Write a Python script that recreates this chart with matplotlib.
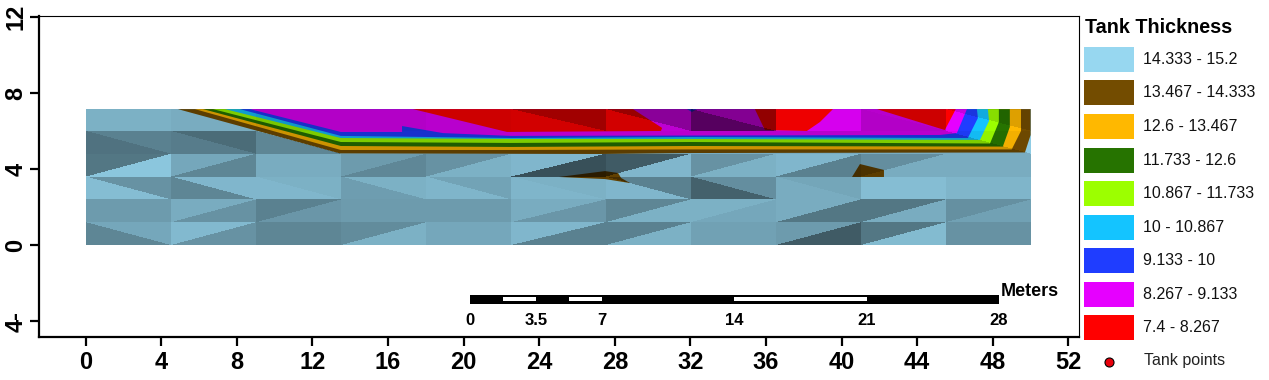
import numpy as np
import matplotlib
matplotlib.use("Agg")
import matplotlib.pyplot as plt
from matplotlib.patches import Rectangle
from matplotlib.tri import Triangulation

plt.rcParams['font.family'] = ['Liberation Sans', 'DejaVu Sans']

# ---------- data ----------
x_nodes = [0, 4.5, 9, 13.5, 18, 22.5, 27.5, 32, 36.5, 41, 45.5, 50]
y_nodes = [7.15, 6.0, 4.8, 3.6, 2.4, 1.2, 0]

# diagonal of each cell: 0 = top-left to bottom-right, 1 = bottom-left to top-right
cell_diag = [
    [0] * 11,
    [0] * 11,
    [1] * 11,
    [0] * 11,
    [1] * 11,
    [0, 1, 1, 1, 1, 1, 1, 1, 1, 1, 1],
]
# hillshade of the triangle above the diagonal, per cell
shade_upper = [
    [.82, .80, .78, .78, .80, .63, .60, .57, .93, .80, .87],
    [.60, .50, .80, .80, .80, .80, .80, .80, .80, .80, .95],
    [.55, .78, .80, .72, .68, .85, .42, .68, .85, .66, .80],
    [.68, .85, .82, .82, .76, .82, .60, .66, .77, .88, .84],
    [.72, .80, .60, .72, .72, .80, .62, .82, .80, .55, .67],
    [.78, .86, .62, .65, .78, .85, .60, .75, .72, .55, .68],
]
# hillshade of the triangle below the diagonal, per cell
shade_lower = [
    [.82, .80, .78, .78, .80, .82, .82, .37, .93, .78, 1.0],
    [.53, .58, .62, .80, .80, .80, .80, .80, .80, .80, .80],
    [.92, .62, .80, .63, .82, .37, .85, .82, .60, .80, .80],
    [.88, .62, .85, .73, .84, .84, .85, .45, .80, .88, .84],
    [.72, .68, .70, .72, .72, .70, .82, .78, .55, .80, .75],
    [.62, .68, .62, .82, .78, .60, .82, .75, .42, .87, .68],
]

# thickness class names, colours, outermost class first
class_labels = ['14.333 - 15.2', '13.467 - 14.333', '12.6 - 13.467', '11.733 - 12.6',
                '10.867 - 11.733', '10 - 10.867', '9.133 - 10', '8.267 - 9.133', '7.4 - 8.267']
class_colors = ['#97D7F0', '#734C00', '#FFB800', '#267300', '#9CFF00',
                '#14C4FF', '#1F3DFF', '#E600FF', '#FF0000']

# contour outlines: lower limit of each class
brown_x = [4.88, 13.45, 27.2, 32, 49.7, 50, 50]
brown_y = [7.15, 4.82, 4.79, 4.84, 4.87, 5.79, 7.15]
orange_x = [5.78, 13.5, 22.5, 32, 49.0, 49.49, 49.49]
orange_y = [7.15, 5.0, 5.0, 5.03, 5.03, 6.0, 7.15]
green_x = [6.21, 13.5, 22.5, 32, 48.53, 48.9, 48.9]
green_y = [7.15, 5.21, 5.16, 5.21, 5.18, 6.21, 7.15]
lime_x = [6.74, 13.5, 22.5, 32, 47.85, 48.32, 48.32]
lime_y = [7.15, 5.42, 5.37, 5.42, 5.34, 6.47, 7.15]
cyan_x = [7.37, 13.5, 22.5, 32, 47.32, 47.8, 47.74]
cyan_y = [7.15, 5.63, 5.58, 5.58, 5.53, 6.53, 7.15]
blue_x = [8.16, 13.5, 22.5, 32, 46.68, 47.21, 47.16]
blue_y = [7.15, 5.74, 5.63, 5.68, 5.63, 6.68, 7.15]
magenta_x = [8.69, 13.5, 16.74, 16.74, 18.9, 22.5, 45.2, 46.1, 46.63]
magenta_y = [7.15, 5.95, 5.95, 6.26, 5.89, 5.74, 5.79, 5.89, 7.15]
red1_x = [17.32, 22.29, 30.44, 30.5, 28.96]
red1_y = [7.15, 5.95, 6.0, 6.16, 7.15]
red2_x = [35.41, 39.54, 38.85, 38.16, 35.94]
red2_y = [7.15, 7.15, 6.47, 6.0, 6.05]
red3_x = [41.87, 46.04, 45.46]
red3_y = [7.15, 7.15, 6.05]
navy_x = [31.81, 32.34, 32.08]
navy_y = [7.15, 7.15, 7.0]
patch1_x = [25.04, 27.48, 28.17, 28.33, 28.8, 27.48]
patch1_y = [3.58, 3.89, 3.79, 3.53, 3.26, 3.47]
patch2_x = [40.97, 42.24, 42.24, 40.55]
patch2_y = [4.26, 3.95, 3.58, 3.58]

x_ticks = list(range(0, 53, 4))
y_ticks = [-4, 0, 4, 8, 12]
y_tick_labels = ['4-', '0', '4', '8', '12']

scale_ticks = [0, 3.5, 7, 14, 21, 28]
scale_labels = ['0', '3.5', '7', '14', '21', '28']
scale_white = [(1.75, 3.5), (5.25, 7), (14, 21)]
tank_label = 'Tank points'

# ---------- figure ----------
W, H = 1269, 380
fig = plt.figure(figsize=(W / 100, H / 100), dpi=100)
ax = fig.add_axes([39 / W, 1 - 337 / H, (1079 - 39) / W, (337 - 16) / H])

ax.fill([x_nodes[0], x_nodes[-1], x_nodes[-1], x_nodes[0]],
        [y_nodes[-1], y_nodes[-1], y_nodes[0], y_nodes[0]],
        color=class_colors[0], lw=0, zorder=1)
outlines = [(brown_x, brown_y, 1), (orange_x, orange_y, 2), (green_x, green_y, 3),
            (lime_x, lime_y, 4), (cyan_x, cyan_y, 5), (blue_x, blue_y, 6),
            (magenta_x, magenta_y, 7), (red1_x, red1_y, 8), (red2_x, red2_y, 8),
            (red3_x, red3_y, 8), (navy_x, navy_y, 6), (patch1_x, patch1_y, 1),
            (patch2_x, patch2_y, 1)]
for xs, ys, c in outlines:
    ax.fill(xs, ys, color=class_colors[c], lw=0, zorder=2)

# hillshade laid over everything: the triangulated mesh sampled on a pixel raster
nx, ny = len(x_nodes), len(y_nodes)
gx, gy = np.meshgrid(x_nodes, y_nodes)
node = lambda r, c: r * nx + c
triangles, darkness = [], []
for r in range(ny - 1):
    for c in range(nx - 1):
        tl, tr, bl, br = node(r, c), node(r, c + 1), node(r + 1, c), node(r + 1, c + 1)
        if cell_diag[r][c] == 0:
            triangles += [[tl, tr, br], [tl, bl, br]]
        else:
            triangles += [[tl, bl, tr], [bl, br, tr]]
        darkness += [1 - shade_upper[r][c], 1 - shade_lower[r][c]]
darkness = np.array(darkness)
tri = Triangulation(gx.ravel(), gy.ravel(), triangles)
finder = tri.get_trifinder()
rx = np.linspace(x_nodes[0], x_nodes[-1], 946)[:-1] + 0.5 * (x_nodes[-1] - x_nodes[0]) / 945
ry = np.linspace(y_nodes[-1], y_nodes[0], 137)[:-1] + 0.5 * (y_nodes[0] - y_nodes[-1]) / 136
px, py = np.meshgrid(rx, ry)
idx = finder(px, py)
rgba = np.zeros(px.shape + (4,))
rgba[..., 3] = np.where(idx >= 0, darkness[np.clip(idx, 0, None)], 0)
ax.imshow(rgba, origin='lower', interpolation='nearest', aspect='auto', zorder=3,
          extent=(x_nodes[0], x_nodes[-1], y_nodes[-1], y_nodes[0]))
ax.set_xlim(-2.47, 52.56)
ax.set_ylim(-4.84, 12.05)

# axes
ax.set_xticks(x_ticks)
ax.set_yticks(y_ticks)
ax.set_yticklabels(y_tick_labels, rotation=90, va='center')
ax.tick_params(axis='both', direction='out', length=6.3, width=1.6, color='black',
               labelsize=17, pad=4)
ax.tick_params(axis='y', pad=2)
for lab in ax.get_xticklabels() + ax.get_yticklabels():
    lab.set_fontweight('bold')
ax.spines['left'].set_linewidth(1.6)
ax.spines['bottom'].set_linewidth(1.6)
ax.spines['top'].set_linewidth(0.8)
ax.spines['right'].set_linewidth(0.8)

# scale bar, in data units
sx0, sy_top, sy_bot = 20.33, -2.63, -3.1
sy_in_top, sy_in_bot = -2.71, -2.97
ax.add_patch(Rectangle((sx0, sy_bot), scale_ticks[-1], sy_top - sy_bot, fc='black', ec='none', zorder=4))
for a, b in scale_white:
    ax.add_patch(Rectangle((sx0 + a, sy_in_bot), b - a, sy_in_top - sy_in_bot, fc='white', ec='none', zorder=5))
for t, lab in zip(scale_ticks, scale_labels):
    ax.text(sx0 + t, -3.95, lab, ha='center', va='center', fontsize=12, fontweight='bold', zorder=5)
ax.text(sx0 + scale_ticks[-1] + 0.1, -2.44, 'Meters', ha='left', va='center', fontsize=13, fontweight='bold', zorder=5)

# legend, in figure pixels
lg = fig.add_axes([0, 0, 1, 1], facecolor='none')
lg.set_xlim(0, W)
lg.set_ylim(H, 0)
lg.axis('off')
lg.text(1085, 27.5, 'Tank Thickness', ha='left', va='center', fontsize=14.2, fontweight='bold')
swatch_tops = [47, 80, 114, 148, 181, 215, 248, 282, 315]
for top, col, lab in zip(swatch_tops, class_colors, class_labels):
    lg.add_patch(Rectangle((1084, top), 50, 25, fc=col, ec='none'))
    lg.text(1143, top + 12.5, lab, ha='left', va='center', fontsize=11.5, color='#111111')
lg.plot([1109], [362], 'o', ms=6.5, mfc='#E8000B', mec='black', mew=0.8)
lg.text(1144, 360, tank_label, ha='left', va='center', fontsize=11.5, color='#222222')

fig.savefig('out.png', dpi=100)
